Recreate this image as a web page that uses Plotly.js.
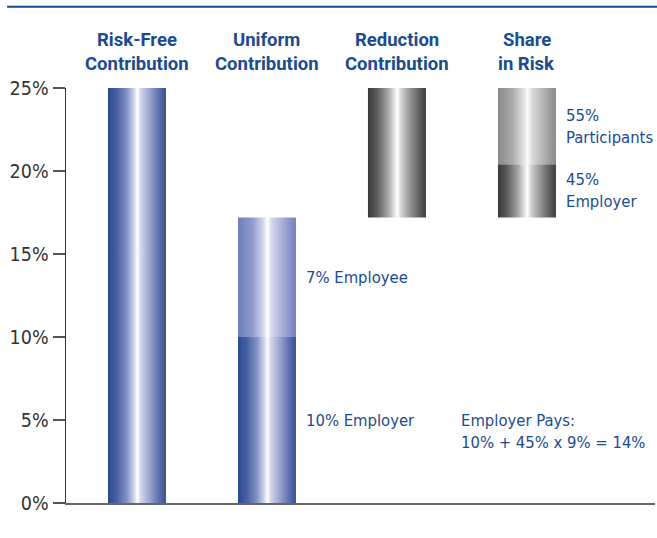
<!DOCTYPE html>
<html>
<head>
<meta charset="utf-8">
<script src="https://cdn.plot.ly/plotly-3.0.1.min.js"></script>
<style>html,body{margin:0;padding:0;background:#fff}#chart{width:657px;height:538px}</style>
</head>
<body>
<div id="chart"></div>
<script>
// ---- data ----
var categories = ["Risk-Free Contribution", "Uniform Contribution", "Reduction Contribution", "Share in Risk"];
var titleLines = [["Risk-Free", "Contribution"], ["Uniform", "Contribution"], ["Reduction", "Contribution"], ["Share", "in Risk"]];
// stacked segments: category index, base, value, style
var segCategory = [0, 1, 1, 2, 3, 3];
var segBase     = [0, 0, 10, 17.2, 17.2, 20.4];
var segValue    = [25, 10, 7.2, 7.8, 3.2, 4.6];
var segStyle    = ["blue", "blue", "lightblue", "gray", "gray", "lightgray"];
var segLabel    = ["", "10% Employer", "7% Employee", "", "45%|Employer", "55%|Participants"];
var tickValues  = [0, 5, 10, 15, 20, 25];
var tickLabels  = ["0%", "5%", "10%", "15%", "20%", "25%"];
var noteLines   = ["Employer Pays:", "10% + 45% x 9% = 14%"];

// ---- styles ----
var gradients = {
  blue: [[0, "#2c4891"], [0.15, "#4760a2"], [0.32, "#8190c4"], [0.44, "#c9cfe8"], [0.51, "#ffffff"], [0.56, "#d4d8ec"], [0.7, "#a1aad3"], [0.86, "#6676b2"], [1, "#33508f"]],
  lightblue: [[0, "#6e7eb9"], [0.25, "#909dcc"], [0.42, "#ccd2eb"], [0.51, "#ffffff"], [0.58, "#d4d8ee"], [0.78, "#a3acd5"], [1, "#7080bb"]],
  gray: [[0, "#383838"], [0.15, "#5a5a5a"], [0.35, "#a8a8a8"], [0.46, "#e4e4e4"], [0.51, "#ffffff"], [0.57, "#d2d2d2"], [0.75, "#8c8c8c"], [1, "#3c3c3c"]],
  lightgray: [[0, "#8a8a8a"], [0.25, "#ababab"], [0.43, "#dedede"], [0.51, "#fbfbfb"], [0.6, "#d6d6d6"], [0.8, "#b0b0b0"], [1, "#888888"]]
};
var halfWidth = 0.223;
var textBlue = "#1b4b8f";
var labelFont = "'DejaVu Sans Condensed', 'DejaVu Sans', sans-serif";
var titleFont = "Roboto, 'Liberation Sans', sans-serif";

var traces = [];
for (var i = 0; i < segValue.length; i++) {
  var c = segCategory[i], b = segBase[i], t = segBase[i] + segValue[i];
  traces.push({
    type: "scatter", mode: "none", hoverinfo: "skip", showlegend: false,
    x: [c - halfWidth, c + halfWidth, c + halfWidth, c - halfWidth, c - halfWidth],
    y: [b, b, t, t, b],
    fill: "toself", line: {width: 0},
    fillgradient: {type: "horizontal", colorscale: gradients[segStyle[i]]},
    name: categories[c]
  });
}

var annotations = [];
// titles above bars
for (var k = 0; k < titleLines.length; k++) {
  for (var j = 0; j < titleLines[k].length; j++) {
    annotations.push({xref: "x", yref: "paper", x: k, y: 1.1145 - j * 0.0555, yanchor: "middle", xanchor: "center",
      text: "<b>" + titleLines[k][j] + "</b>", showarrow: false, font: {family: titleFont, size: 18.5, color: textBlue}});
  }
}
// segment labels
for (var i = 0; i < segLabel.length; i++) {
  if (!segLabel[i]) continue;
  var lines = segLabel[i].split("|");
  var mid = segBase[i] + segValue[i] / 2;
  for (var j = 0; j < lines.length; j++) {
    annotations.push({xref: "x", yref: "y", x: segCategory[i] + halfWidth, xshift: 8, xanchor: "left",
      y: mid, yanchor: "middle", yshift: (lines.length - 1) * 11 - j * 22,
      text: lines[j], showarrow: false, font: {family: labelFont, size: 16.5, color: textBlue}});
  }
}
for (var j = 0; j < noteLines.length; j++) {
  annotations.push({xref: "x", yref: "y", x: 2.48, xanchor: "left", y: 4.3, yanchor: "middle", yshift: 11 - j * 22,
    text: noteLines[j], showarrow: false, font: {family: labelFont, size: 16.5, color: textBlue}});
}

var layout = {
  width: 657, height: 538,
  margin: {l: 66, r: 2, t: 88, b: 35},
  paper_bgcolor: "#ffffff", plot_bgcolor: "#ffffff",
  showlegend: false,
  xaxis: {range: [-0.546, 3.985], showticklabels: false, ticks: "", showgrid: false, zeroline: false,
    showline: true, linecolor: "#666666", linewidth: 2, fixedrange: true},
  yaxis: {range: [0, 25], tickvals: tickValues, ticktext: tickLabels, ticks: "outside", ticklen: 12, tickwidth: 1.5,
    tickcolor: "#555555", showgrid: false, zeroline: false, showline: true, linecolor: "#333333", linewidth: 1.5,
    tickfont: {family: labelFont, size: 19.5, color: "#333333"}, fixedrange: true},
  shapes: [{type: "line", xref: "paper", yref: "paper", x0: -0.1, x1: 1.01, y0: 1.196, y1: 1.196,
    line: {color: "#0d4a99", width: 2}}],
  annotations: annotations
};

Plotly.newPlot("chart", traces, layout, {displayModeBar: false, staticPlot: true});
</script>
</body>
</html>
